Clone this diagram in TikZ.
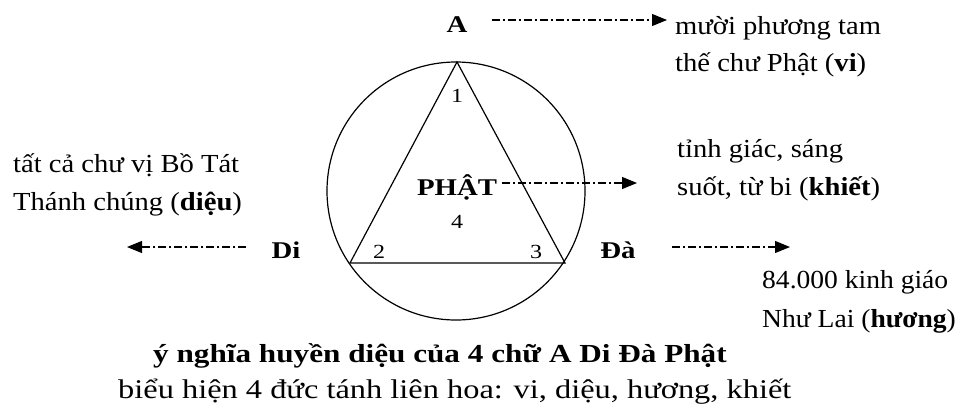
\documentclass[tikz,border=0pt]{standalone}
\usepackage{fontspec}
\setmainfont{Liberation Serif}[FakeStretch=1.2]
\newfontfamily\sidefont{Liberation Serif}[FakeStretch=1.1]
\newfontfamily\narrowfont{Liberation Serif}[FakeStretch=1.06]
\usetikzlibrary{arrows.meta}
\begin{document}
\begin{tikzpicture}[x=1pt,y=-1pt,
  txt/.style={font=\sidefont\fontsize{26}{30}\selectfont, inner sep=0pt, anchor=base west},
  ntxt/.style={font=\narrowfont\fontsize{26}{30}\selectfont, inner sep=0pt, anchor=base west},
  lbl/.style={font=\fontsize{24}{28}\selectfont\bfseries, inner sep=0pt, anchor=base},
  num/.style={font=\fontsize{20}{24}\selectfont, inner sep=0pt, anchor=base},
  ddarrow/.style={line width=1.1pt, dash pattern=on 8pt off 3pt on 2pt off 3pt,
    -{Triangle[length=15pt,width=12pt]}},
  shapeline/.style={line width=1.2pt}]
\useasboundingbox (0,0) rectangle (964,410);
% circle and triangle
\coordinate (C) at (456,191);
\draw[shapeline] (C) circle (129);
\coordinate (T1) at (457,62);
\coordinate (T2) at (350,263);
\coordinate (T3) at (565,263);
\draw[shapeline] (T1) -- (T2) -- (T3) -- cycle;
\node[num] (n1) at (457,102) {1};
\node[num] (n2) at (379,258) {2};
\node[num] (n3) at (536,258) {3};
\node[num] (n4) at (457,228) {4};
\node[lbl] (phat) at (457,195) {PHẬT};
% labels
\node[lbl] (A) at (457,32) {A};
\node[lbl] (Di) at (286,258) {Di};
\node[lbl] (Da) at (618,258) {Đà};
% texts
\node[txt] (tA1) at (675,34) {mười phương tam};
\node[txt] (tA2) at (675,71) {thế chư Phật (\textbf{vi})};
\node[txt] (tP1) at (677,157) {tỉnh giác, sáng};
\node[txt] (tP2) at (677,195) {suốt, từ bi (\textbf{khiết})};
\node[txt] (tDi1) at (13,172) {tất cả chư vị Bồ Tát};
\node[txt] (tDi2) at (13,210) {Thánh chúng (\textbf{diệu})};
\node[ntxt] (tDa1) at (762,288) {84.000 kinh giáo};
\node[ntxt] (tDa2) at (762,327) {Như Lai (\textbf{hương})};
\node[inner sep=0pt, anchor=base west, font=\fontsize{26}{30}\selectfont\bfseries] (title) at (153,362) {ý nghĩa huyền diệu của 4 chữ A Di Đà Phật};
\node[inner sep=0pt, anchor=base west, font=\fontsize{27}{32}\selectfont] (sub) at (118,398) {biểu hiện 4 đức tánh liên hoa: vi, diệu, hương, khiết};
% arrows
\coordinate (aA) at (667,20);
\coordinate (aP) at (637,183);
\coordinate (aDi) at (127,247);
\coordinate (aDa) at (790,247);
\draw[ddarrow, shorten <=24pt] (A.east |- aA) -- (aA);
\draw[ddarrow, shorten <=5pt] (phat.east |- aP) -- (aP);
\draw[ddarrow, shorten <=25pt] (Di.west |- aDi) -- (aDi);
\draw[ddarrow, shorten <=36pt] (Da.east |- aDa) -- (aDa);
\end{tikzpicture}
\end{document}
